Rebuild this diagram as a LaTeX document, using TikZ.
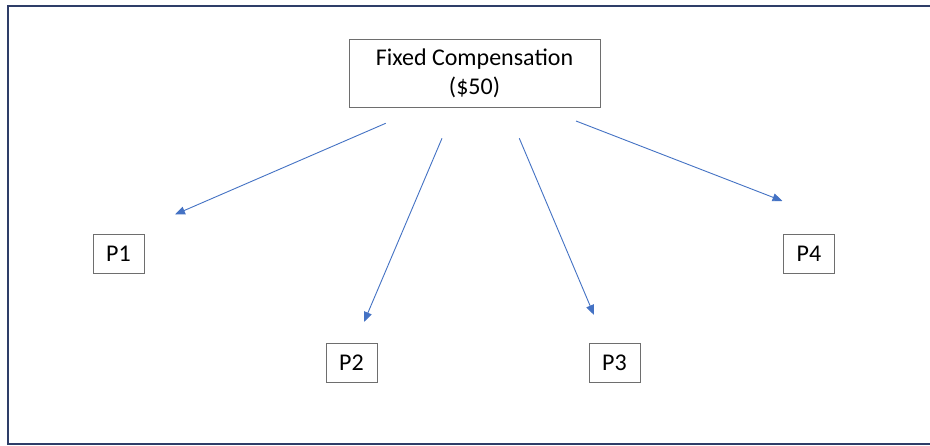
\documentclass[tikz,border=0pt]{standalone}
\usepackage{fontspec}
\setmainfont{Carlito}
\usetikzlibrary{arrows.meta}
\definecolor{framenavy}{HTML}{2E3D68}
\definecolor{linkblue}{HTML}{4472C4}
\definecolor{boxgray}{HTML}{6E6E6E}
\tikzset{
  box/.style={draw=boxgray, line width=0.9pt, inner sep=0pt, align=center,
    font=\fontsize{24}{28.5}\selectfont},
  pbox/.style={box, minimum width=51pt, minimum height=39pt},
  link/.style={draw=linkblue, line width=0.9pt, -{Triangle[length=10pt,width=8pt]}}
}
\begin{document}
\begin{tikzpicture}[x=1pt,y=-1pt]
  \useasboundingbox (0,0) rectangle (930,446);
  \fill[white] (0,0) rectangle (930,446);
  % outer frame
  \draw[framenavy, line width=2pt] (8,6) rectangle (933,444);

  % nodes
  \node[box, minimum width=251pt, minimum height=68pt] (fixed) at (474.5,73.5)
    {Fixed Compensation\\(\$50)};
  \node[pbox] (p1) at (118.5,253.5) {P1};
  \node[pbox] (p2) at (351.5,362.5) {P2};
  \node[pbox] (p3) at (614.5,362.5) {P3};
  \node[pbox] (p4) at (809,253.5) {P4};

  % arrow end points
  \coordinate (s1) at (385.7,123.3);
  \coordinate (e1) at (175,214.5);
  \coordinate (s2) at (442,138.3);
  \coordinate (e2) at (364,322);
  \coordinate (s3) at (519.3,138.3);
  \coordinate (e3) at (594,315);
  \coordinate (s4) at (576,121);
  \coordinate (e4) at (782.5,201);

  % connectors
  \draw[link] (s1) -- (e1);
  \draw[link] (s2) -- (e2);
  \draw[link] (s3) -- (e3);
  \draw[link] (s4) -- (e4);
\end{tikzpicture}
\end{document}
